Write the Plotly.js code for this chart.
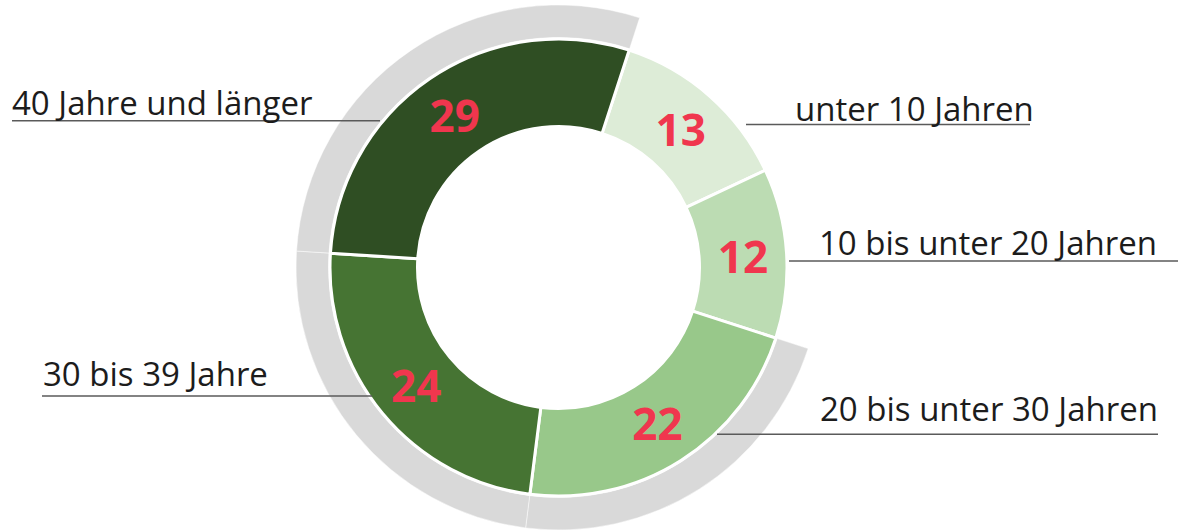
<!DOCTYPE html>
<html><head><meta charset="utf-8">
<script src="https://cdn.plot.ly/plotly-3.0.1.min.js"></script>
<style>html,body{margin:0;padding:0;background:#fff;}#chart{width:1178px;height:532px;}</style>
</head><body><div id="chart"></div>
<script>
// ---- data ----
const categories = ["unter 10 Jahren", "10 bis unter 20 Jahren", "20 bis unter 30 Jahren", "30 bis 39 Jahre", "40 Jahre und länger"];
const shares = [13, 12, 22, 24, 29];
const inOuterRing = [false, false, true, true, true];

// ---- styles ----
const sliceColors = ["#ddecd7", "#bcdcb3", "#98c88a", "#467433", "#2f4e23"];
const ringGrey = "#d9d9d9";
const numberRed = "#f0364e";
const W = 1178, H = 532;
const C = {x: 558.5, y: 267.5};
const donutR = 228.5, donutHole = 141;
const ringOuter = 262.5, ringInner = 230;
// label placement (pixels): text left, baseline, line x0, x1, y
const labelPos = [
  {tx: 792.5, base: 122, lx0: 746, lx1: 1030, ly: 124.5},
  {tx: 816.5, base: 256.5, lx0: 789, lx1: 1178, ly: 261},
  {tx: 817.5, base: 422, lx0: 717, lx1: 1158, ly: 434.3},
  {tx: 40.5, base: 387, lx0: 42, lx1: 372, ly: 396},
  {tx: 9.5, base: 116.5, lx0: 12, lx1: 380, ly: 120.7}
];
const labelFont = {family: "Open Sans, sans-serif", size: 33, color: "#1c1c1c", weight: 400};

function domainFor(r) {
  return {x: [(C.x - r) / W, (C.x + r) / W], y: [1 - (C.y + r) / H, 1 - (C.y - r) / H]};
}
const px = v => v / W, py = v => 1 - v / H;

const ring = {
  type: "pie", values: shares, labels: categories, sort: false, direction: "clockwise", rotation: 18,
  hole: ringInner / ringOuter, domain: domainFor(ringOuter),
  marker: {colors: inOuterRing.map(f => f ? ringGrey : "rgba(0,0,0,0)"), line: {color: "rgba(255,255,255,0.8)", width: 0.6}},
  textinfo: "none", hoverinfo: "skip", showlegend: false
};
const donut = {
  type: "pie", values: shares, labels: categories, sort: false, direction: "clockwise", rotation: 18,
  hole: donutHole / donutR, domain: domainFor(donutR),
  marker: {colors: sliceColors, line: {color: "#ffffff", width: 3}},
  textinfo: "value", textposition: "inside", insidetextorientation: "horizontal",
  insidetextfont: {family: "Open Sans, sans-serif", size: 44, color: numberRed, weight: 700},
  hoverinfo: "label+value", showlegend: false
};

const annotations = categories.map((c, i) => ({
  xref: "paper", yref: "paper", x: px(labelPos[i].tx), y: py(labelPos[i].base + 10.7),
  xanchor: "left", yanchor: "bottom", text: c, showarrow: false, font: labelFont, borderpad: 1
}));
const shapes = categories.map((c, i) => ({
  type: "line", xref: "paper", yref: "paper",
  x0: px(labelPos[i].lx0), x1: px(labelPos[i].lx1), y0: py(labelPos[i].ly), y1: py(labelPos[i].ly),
  line: {color: "#5a5a5a", width: 1.5}, layer: "above"
}));

Plotly.newPlot("chart", [ring, donut], {
  width: W, height: H, margin: {l: 0, r: 0, t: 0, b: 0},
  paper_bgcolor: "#ffffff", plot_bgcolor: "#ffffff",
  showlegend: false, annotations, shapes
}, {displayModeBar: false});
</script></body></html>
